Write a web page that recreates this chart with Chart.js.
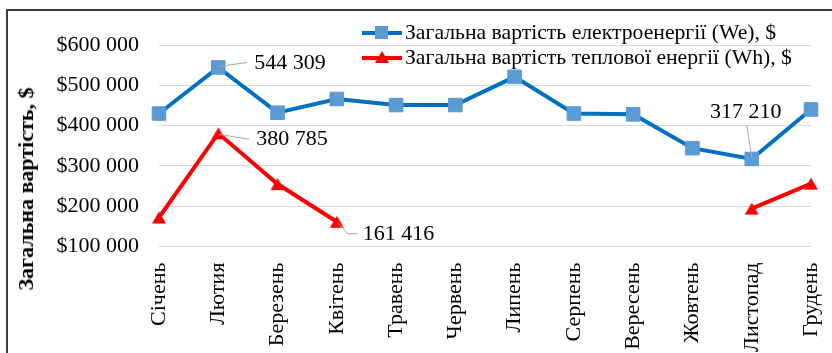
<!DOCTYPE html>
<html>
<head>
<meta charset="utf-8">
<script src="https://cdn.jsdelivr.net/npm/chart.js@4/dist/chart.umd.min.js"></script>
<style>
  html, body { margin: 0; padding: 0; background: #fff; overflow: hidden; }
  #wrap { position: relative; width: 832px; height: 353px; overflow: hidden;
          font-family: "Liberation Serif", "Times New Roman", serif; color: #000; }
  #frame { position: absolute; left: 6px; top: 9px; width: 900px; height: 420px;
           border: 2px solid #3c3c3c; box-sizing: border-box; }
  #chart { position: absolute; left: 0; top: 0; }
  #ytitle { position: absolute; left: 26px; top: 189px; font-size: 22px; font-weight: bold;
            white-space: nowrap; transform: translate(-50%, -50%) rotate(-90deg); }
  .leg { position: absolute; left: 362px; height: 25px; display: flex; align-items: center;
         font-size: 21.7px; white-space: nowrap; }
  .sym { position: relative; width: 40px; height: 25px; margin-right: 3px; flex: none; }
  .sym .ln { position: absolute; left: 0; right: 0; top: 50%; height: 4px; margin-top: -2px; }
  .sym .sq { position: absolute; left: 13px; top: 6px; width: 13px; height: 13px; background: #5B9BD5; }
  .sym .tri { position: absolute; left: 13px; top: 6px; width: 0; height: 0;
              border-left: 7px solid transparent; border-right: 7px solid transparent;
              border-bottom: 12px solid #FF0000; }
</style>
</head>
<body>
<div id="wrap">
  <div id="frame"></div>
  <canvas id="chart" width="832" height="353"></canvas>
  <div id="ytitle">Загальна вартість, $</div>
  <div class="leg" style="top:20px"><div class="sym"><div class="ln" style="background:#0070C0"></div><div class="sq"></div></div><span id="leg0"></span></div>
  <div class="leg" style="top:45px"><div class="sym"><div class="ln" style="background:#FF0000"></div><div class="tri"></div></div><span id="leg1"></span></div>
</div>
<script>
// Months
const months = ['Січень', 'Лютия', 'Березень', 'Квітень', 'Травень', 'Червень',
                'Липень', 'Серпень', 'Вересень', 'Жовтень', 'Листопад', 'Грудень'];

// Total electricity cost per month, $
const electricityCost = [430000, 544309, 432000, 466000, 451000, 451000,
                         521000, 430000, 428000, 344000, 317210, 440000];

// Total heat energy cost per month, $ (no heating May–October)
const heatCost = [172000, 380785, 255000, 161416, null, null,
                  null, null, null, null, 194000, 256000];

const seriesNames = ['Загальна вартість електроенергії (We), $',
                     'Загальна вартість теплової енергії (Wh), $'];

// Y axis range and step
const yMin = 100000;
const yMax = 600000;
const yStep = 100000;

document.getElementById('leg0').textContent = seriesNames[0];
document.getElementById('leg1').textContent = seriesNames[1];

const serif = '"Liberation Serif", "Times New Roman", serif';
const fmtSpace = v => Math.round(v).toString().replace(/\B(?=(\d{3})+(?!\d))/g, ' ');

// Red triangle marker, centred on its bounding box
const tri = document.createElement('canvas');
tri.width = 16; tri.height = 14;
(function () {
  const c = tri.getContext('2d');
  c.fillStyle = '#FF0000';
  c.beginPath();
  c.moveTo(8, 1); c.lineTo(15, 13); c.lineTo(1, 13); c.closePath();
  c.fill();
})();

// Value callouts with grey leader lines
const valueLabels = {
  id: 'valueLabels',
  afterDatasetsDraw(chart, args, opts) {
    const ctx = chart.ctx;
    ctx.save();
    ctx.font = opts.font;
    ctx.textBaseline = 'middle';
    opts.items.forEach(it => {
      const el = chart.getDatasetMeta(it.dataset).data[it.index];
      const v = chart.data.datasets[it.dataset].data[it.index];
      if (!el || v == null) return;
      const x = el.x, y = el.y;
      ctx.strokeStyle = '#A6A6A6';
      ctx.lineWidth = 1;
      ctx.beginPath();
      it.leader.forEach((p, i) => i ? ctx.lineTo(x + p[0], y + p[1]) : ctx.moveTo(x + p[0], y + p[1]));
      ctx.stroke();
      ctx.fillStyle = '#000';
      ctx.textAlign = it.align;
      ctx.fillText(fmtSpace(v), x + it.dx, y + it.dy);
    });
    ctx.restore();
  }
};

new Chart(document.getElementById('chart'), {
  type: 'line',
  data: {
    labels: months,
    datasets: [
      {
        label: seriesNames[0],
        data: electricityCost,
        borderColor: '#0070C0',
        borderWidth: 4,
        pointStyle: 'rect',
        pointRadius: 9.6,
        pointBackgroundColor: '#5B9BD5',
        pointBorderColor: '#5B9BD5',
        pointBorderWidth: 1,
        tension: 0,
        clip: false
      },
      {
        label: seriesNames[1],
        data: heatCost,
        borderColor: '#FF0000',
        borderWidth: 4,
        pointStyle: tri,
        pointRadius: 8,
        spanGaps: false,
        tension: 0,
        clip: false
      }
    ]
  },
  options: {
    responsive: false,
    animation: false,
    events: [],
    layout: { padding: { top: 45, right: 21, left: 0, bottom: 0 } },
    plugins: {
      legend: { display: false },
      tooltip: { enabled: false },
      valueLabels: {
        font: '22px ' + serif,
        items: [
          { dataset: 0, index: 1, dx: 36, dy: -4, align: 'left', leader: [[1, -1], [29, -5]] },
          { dataset: 1, index: 1, dx: 38, dy: 6, align: 'left', leader: [[1, 1], [31, 6]] },
          { dataset: 1, index: 3, dx: 26, dy: 12, align: 'left', leader: [[1, 1], [11, 12], [21, 12]] },
          { dataset: 0, index: 10, dx: -6, dy: -47, align: 'center', leader: [[-5, -34], [0, -2]] }
        ]
      }
    },
    scales: {
      x: {
        offset: false,
        grid: { display: false, drawTicks: false },
        border: { display: false },
        ticks: {
          autoSkip: false, minRotation: 90, maxRotation: 90, padding: 16,
          color: '#000', font: { family: serif, size: 22 }
        },
        afterFit(axis) {
          axis.height = 106.5;
          axis.paddingLeft = 0;
          axis.paddingRight = 0;
        }
      },
      y: {
        min: yMin, max: yMax,
        grid: { color: '#D9D9D9', lineWidth: 1, drawTicks: false },
        border: { display: false },
        ticks: {
          stepSize: yStep, padding: 20, color: '#000',
          font: { family: serif, size: 22 },
          callback: v => '$' + fmtSpace(v)
        },
        afterFit(axis) { axis.width = 159; }
      }
    }
  },
  plugins: [valueLabels]
});
</script>
</body>
</html>
